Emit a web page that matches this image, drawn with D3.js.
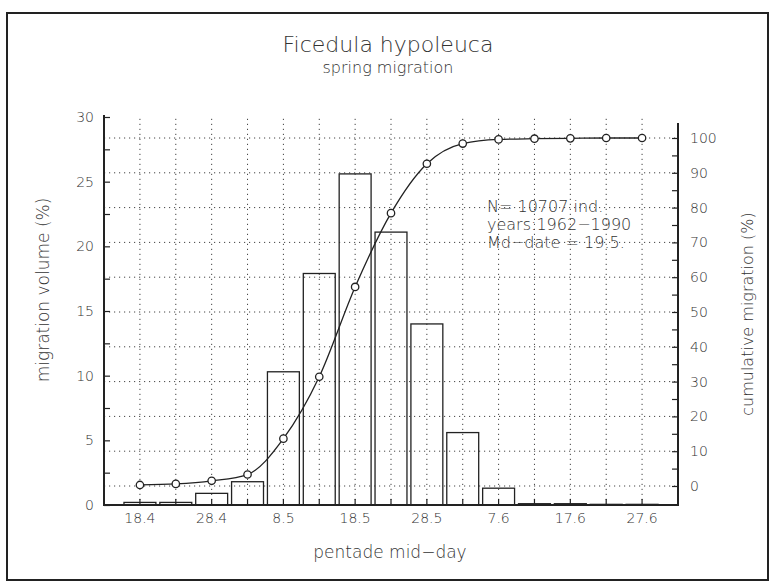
<!DOCTYPE html>
<html>
<head>
<meta charset="utf-8">
<script src="https://cdn.jsdelivr.net/npm/d3@7"></script>
<style>
  body { margin: 0; background: #fff; }
  svg text { font-family: "DejaVu Sans", sans-serif; font-weight: 200; fill: #333; }
</style>
</head>
<body>
<div id="ficedula_chart"></div>
<script>
// data
const pentades = ["18.4", "23.4", "28.4", "3.5", "8.5", "13.5", "18.5", "23.5", "28.5", "2.6", "7.6", "12.6", "17.6", "22.6", "27.6"];
const pentadeLabels = ["18.4", "28.4", "8.5", "18.5", "28.5", "7.6", "17.6", "27.6"];
const volume = [0.2, 0.2, 0.9, 1.8, 10.3, 17.9, 25.6, 21.1, 14.0, 5.6, 1.3, 0.1, 0.1, 0.05, 0.05];
const cumulative = [0.3, 0.6, 1.5, 3.3, 13.6, 31.4, 57.2, 78.4, 92.6, 98.4, 99.6, 99.8, 99.9, 100, 100];
const volumeTicks = [0, 2.5, 5, 7.5, 10, 12.5, 15, 17.5, 20, 22.5, 25, 27.5, 30];
const cumulTicks = d3.range(0, 101, 5);
const noteLines = ["N= 10707 ind.", "years:1962\u22121990", "Md\u2212date = 19.5."];

const width = 769, height = 583;
const plot = {left: 104, right: 678, bottom: 505, top: 115};

const svg = d3.select("#ficedula_chart")
  .append("svg")
    .attr("width", width)
    .attr("height", height);

svg.append("rect")
  .attr("width", width).attr("height", height)
  .attr("fill", "#fff");

// outer frame
svg.append("rect")
  .attr("x", 7).attr("y", 13)
  .attr("width", 761).attr("height", 567)
  .attr("fill", "none")
  .attr("stroke", "#222")
  .attr("stroke-width", 2);

// scales
const x = d3.scaleBand()
  .domain(pentades)
  .range([122, 660])
  .paddingInner(0.11)
  .paddingOuter(0.055);

const yL = d3.scaleLinear().domain([0, 30]).range([plot.bottom, 117]);
const yR = d3.scaleLinear().domain([0, 100]).range([486, 138]);

// dotted grid
const grid = svg.append("g")
  .attr("stroke", "#444")
  .attr("stroke-width", 1)
  .attr("stroke-dasharray", "1.2,3.8");

grid.selectAll("line.h")
  .data(d3.range(0, 101, 10))
  .enter().append("line")
    .attr("x1", plot.left).attr("x2", plot.right)
    .attr("y1", d => yR(d)).attr("y2", d => yR(d));

grid.selectAll("line.v")
  .data(pentades)
  .enter().append("line")
    .attr("x1", d => x(d) + x.bandwidth() / 2)
    .attr("x2", d => x(d) + x.bandwidth() / 2)
    .attr("y1", plot.bottom).attr("y2", plot.top);

// bars
svg.append("g")
  .selectAll("rect")
  .data(volume)
  .enter()
  .append("rect")
    .attr("x", (d, i) => x(pentades[i]))
    .attr("y", d => yL(d))
    .attr("width", x.bandwidth())
    .attr("height", d => yL(0) - yL(d))
    .attr("fill", "none")
    .attr("stroke", "#222")
    .attr("stroke-width", 1.3);

// cumulative curve
const line = d3.line()
  .x((d, i) => x(pentades[i]) + x.bandwidth() / 2)
  .y(d => yR(d))
  .curve(d3.curveMonotoneX);

svg.append("path")
  .datum(cumulative)
  .attr("d", line)
  .attr("fill", "none")
  .attr("stroke", "#222")
  .attr("stroke-width", 1.3);

svg.append("g")
  .selectAll("circle")
  .data(cumulative)
  .enter()
  .append("circle")
    .attr("cx", (d, i) => x(pentades[i]) + x.bandwidth() / 2)
    .attr("cy", d => yR(d))
    .attr("r", 3.7)
    .attr("fill", "#fff")
    .attr("stroke", "#222")
    .attr("stroke-width", 1.3);

// axes
const xAxis = svg.append("g")
  .attr("transform", `translate(0, ${plot.bottom})`)
  .call(d3.axisBottom(x)
    .tickSizeInner(-6).tickSizeOuter(0).tickPadding(8)
    .tickFormat(d => pentadeLabels.includes(d) ? d : ""));
xAxis.select(".domain").remove();

const leftAxis = svg.append("g")
  .attr("transform", `translate(${plot.left}, 0)`)
  .call(d3.axisLeft(yL)
    .tickValues(volumeTicks)
    .tickSizeInner(-6).tickSizeOuter(0).tickPadding(10)
    .tickFormat(d => d % 5 === 0 ? d : ""));
leftAxis.select(".domain").remove();

const rightAxis = svg.append("g")
  .attr("transform", `translate(${plot.right}, 0)`)
  .call(d3.axisRight(yR)
    .tickValues(cumulTicks)
    .tickSizeInner(-6).tickSizeOuter(0).tickPadding(12)
    .tickFormat(d => d % 10 === 0 ? d : ""));
rightAxis.select(".domain").remove();

svg.selectAll(".tick line").attr("stroke", "#222").attr("stroke-width", 1.2);
svg.selectAll(".tick text").attr("font-size", 14).attr("fill", "#333")
  .style("font-family", "\"DejaVu Sans\", sans-serif");

// axis lines
svg.append("path")
  .attr("d", `M${plot.left},${plot.top}V${plot.bottom}H${plot.right}V123`)
  .attr("fill", "none")
  .attr("stroke", "#222")
  .attr("stroke-width", 2);

// titles
svg.append("text")
  .attr("x", 388).attr("y", 52)
  .attr("text-anchor", "middle")
  .attr("font-size", 22)
  .text("Ficedula hypoleuca");

svg.append("text")
  .attr("x", 388).attr("y", 73)
  .attr("text-anchor", "middle")
  .attr("font-size", 16)
  .text("spring migration");

svg.append("text")
  .attr("x", 390).attr("y", 558)
  .attr("text-anchor", "middle")
  .attr("font-size", 17)
  .text("pentade mid\u2212day");

svg.append("text")
  .attr("transform", "translate(49, 290) rotate(-90)")
  .attr("text-anchor", "middle")
  .attr("font-size", 17)
  .text("migration volume (%)");

svg.append("text")
  .attr("transform", "translate(753, 314) rotate(-90)")
  .attr("text-anchor", "middle")
  .attr("font-size", 16)
  .text("cumulative migration (%)");

// note
svg.append("g")
  .selectAll("text")
  .data(noteLines)
  .enter()
  .append("text")
    .attr("x", 487)
    .attr("y", (d, i) => 212 + i * 18)
    .attr("font-size", 16)
    .text(d => d);
</script>
</body>
</html>
